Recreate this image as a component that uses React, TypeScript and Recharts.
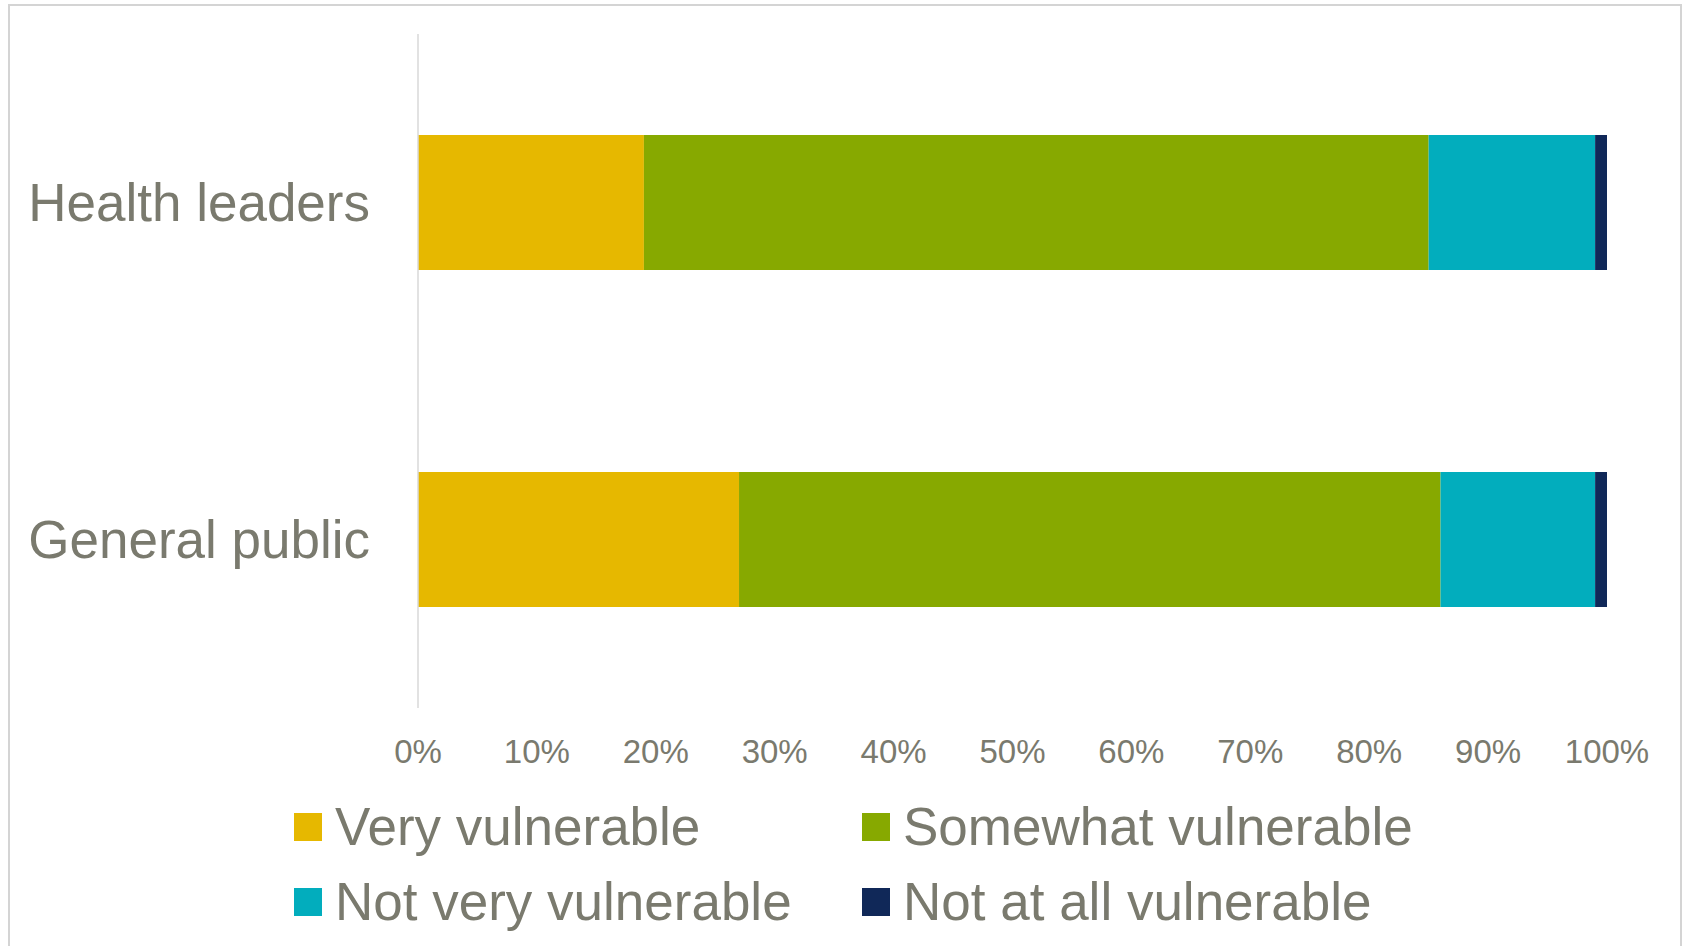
import React from 'react';
import { BarChart, Bar, XAxis, YAxis, Legend } from 'recharts';

const categories = ['Health leaders', 'General public'];
const veryVulnerable = [19, 27];
const somewhatVulnerable = [66, 59];
const notVeryVulnerable = [14, 13];
const notAtAllVulnerable = [1, 1];
const xTicks = [0, 10, 20, 30, 40, 50, 60, 70, 80, 90, 100];

const seriesNames = ['Very vulnerable', 'Somewhat vulnerable', 'Not very vulnerable', 'Not at all vulnerable'];
const seriesKeys = ['very', 'somewhat', 'notVery', 'notAtAll'];
const seriesColors = ['#E6B800', '#87A900', '#02ADBD', '#102858'];

const data = categories.map((name, i) => ({
  name,
  very: veryVulnerable[i],
  somewhat: somewhatVulnerable[i],
  notVery: notVeryVulnerable[i],
  notAtAll: notAtAllVulnerable[i],
}));

const FONT = '"Liberation Sans", Arial, sans-serif';
const TEXT = '#7A7A6E';

const CustomLegend = () => (
  <div
    style={{
      display: 'grid',
      gridTemplateColumns: '568px 568px',
      fontFamily: FONT,
      fontSize: 53,
      color: TEXT,
    }}
  >
    {seriesNames.map((n, i) => (
      <div key={n} style={{ display: 'flex', alignItems: 'center', height: 75 }}>
        <div style={{ width: 28, height: 28, background: seriesColors[i], marginRight: 13 }} />
        <span style={{ lineHeight: '60px', whiteSpace: 'nowrap' }}>{n}</span>
      </div>
    ))}
  </div>
);

export default function App() {
  return (
    <div>
      <div
        style={{
          position: 'absolute',
          left: 8,
          top: 4,
          width: 1674,
          height: 942,
          boxSizing: 'border-box',
          border: '2px solid #d4d4d4',
          borderBottom: 'none',
        }}
      />
      <div style={{ position: 'absolute', left: 0, top: 0 }}>
        <BarChart
          width={1683}
          height={946}
          data={data}
          layout="vertical"
          margin={{ top: 34, right: 76, bottom: 208, left: 0 }}
          barSize={135}
        >
          <XAxis
            type="number"
            domain={[0, 100]}
            ticks={xTicks}
            tickFormatter={(v) => `${v}%`}
            axisLine={false}
            tickLine={false}
            tickSize={0}
            tickMargin={32}
            interval={0}
            tick={{ fill: TEXT, fontSize: 33, fontFamily: FONT }}
          />
          <YAxis
            type="category"
            dataKey="name"
            width={418}
            axisLine={{ stroke: '#d9d9d9', strokeWidth: 1.5 }}
            tickLine={false}
            tickSize={0}
            tickMargin={48}
            tick={{ fill: TEXT, fontSize: 53, fontFamily: FONT }}
          />
          {seriesKeys.map((k, i) => (
            <Bar
              key={k}
              dataKey={k}
              name={seriesNames[i]}
              stackId="a"
              fill={seriesColors[i]}
              isAnimationActive={false}
            />
          ))}
          <Legend
            layout="horizontal"
            verticalAlign="middle"
            align="center"
            content={() => <CustomLegend />}
            wrapperStyle={{ top: 789, left: 294, width: 1200, height: 150 }}
          />
        </BarChart>
      </div>
    </div>
  );
}
